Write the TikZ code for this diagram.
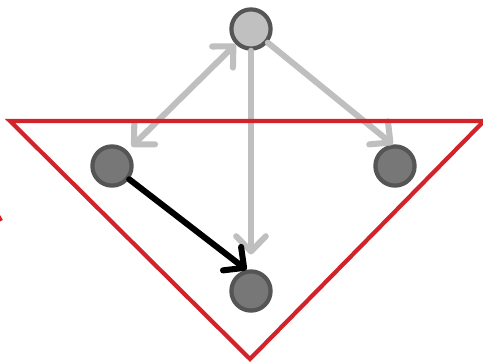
\documentclass[tikz,border=0pt]{standalone}
\usepackage{tikz}
\usetikzlibrary{arrows.meta,positioning}
\usepackage{xcolor}
\definecolor{nodeedge}{HTML}{555555}
\definecolor{nodefill}{HTML}{777777}
\definecolor{rootfill}{HTML}{C0C0C0}
\definecolor{linkgray}{HTML}{BFBFBF}
\definecolor{cutred}{HTML}{D2232A}

\begin{document}
\begin{tikzpicture}[x=0.025cm, y=-0.025cm,
  vtx/.style={circle, draw=nodeedge, fill=nodefill, line width=3pt, minimum size=0.98cm, inner sep=0pt},
  rootvtx/.style={vtx, fill=rootfill},
  barb/.tip={Straight Barb[length=3.8mm, width=7.4mm, round]},
  link/.style={linkgray, line width=4.3pt, line cap=round, -{barb}},
  blink/.style={link, {barb}-{barb}},
  hot/.style={black, line width=4.3pt, line cap=round, -{barb}},
  cut/.style={cutred, line width=3pt, line join=miter}]
  \clip (0,0) rectangle (483,363);

  % vertices
  \node[rootvtx] (top) at (251,29) {};
  \node[vtx] (left) at (112,166) {};
  \node[vtx] (right) at (395,166) {};
  \node[vtx] (bottom) at (251,291) {};

  % gray links from the top vertex
  \draw[blink, shorten >=0.15cm] (top) -- (left);
  \draw[link] (top) -- (right.96);
  \draw[link, shorten >=0.37cm] (top) -- (bottom);

  % red cut triangle
  \draw[cut] (10,121) -- (484,121) -- (250,359) -- cycle;
  \draw[cut] (-4,212) -- (1,221);

  % black link
  \draw[hot] (left) -- (bottom.102);
\end{tikzpicture}
\end{document}
